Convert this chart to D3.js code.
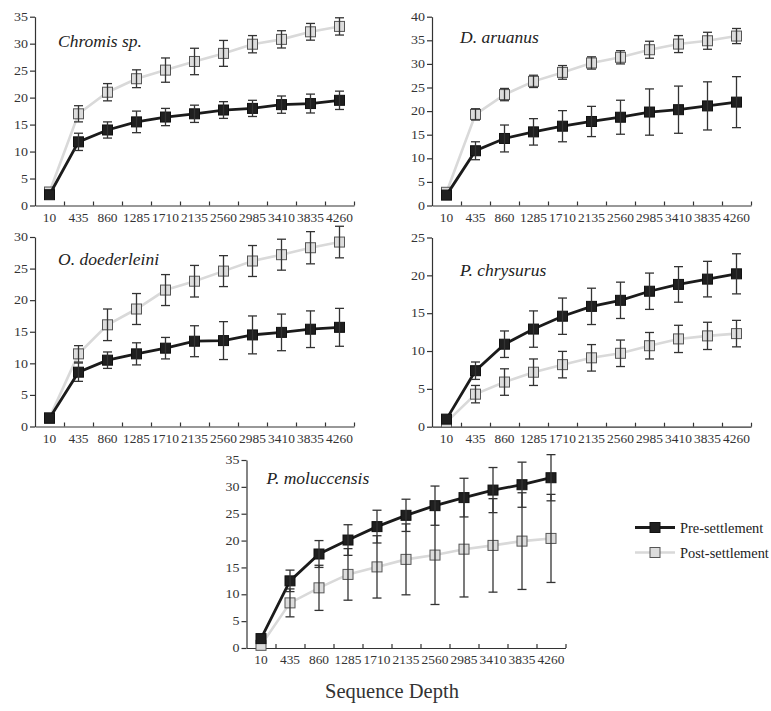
<!DOCTYPE html>
<html>
<head>
<meta charset="utf-8">
<script src="https://cdn.jsdelivr.net/npm/d3@7"></script>
<style>
  body { margin: 0; background: #fff; }
  svg { display: block; font-family: "Liberation Serif", "Times New Roman", serif; }
</style>
</head>
<body>
<div id="chart"></div>
<script>
// sequence depth categories (x axis)
const depths = [10, 435, 860, 1285, 1710, 2135, 2560, 2985, 3410, 3835, 4260];

const species = ["Chromis sp.", "D. aruanus", "O. doederleini", "P. chrysurus", "P. moluccensis"];
const yMax = [35, 40, 30, 25, 35];

const chromisPre = [2.0, 11.8, 14.0, 15.5, 16.4, 17.0, 17.7, 18.0, 18.7, 18.9, 19.5];
const chromisPreErr = [0, 1.6, 1.5, 2.0, 1.6, 1.6, 1.55, 1.5, 1.6, 1.75, 1.7];
const chromisPost = [2.5, 17.0, 21.0, 23.5, 25.1, 26.7, 28.2, 29.9, 30.8, 32.2, 33.2];
const chromisPostErr = [0, 1.5, 1.6, 1.65, 2.25, 2.45, 2.4, 1.6, 1.6, 1.55, 1.6];

const aruanusPre = [2.2, 11.6, 14.2, 15.6, 16.8, 17.8, 18.7, 19.8, 20.3, 21.1, 21.9];
const aruanusPreErr = [0, 1.9, 2.85, 2.8, 3.3, 3.2, 3.6, 4.9, 5.0, 5.1, 5.4];
const aruanusPost = [2.8, 19.3, 23.5, 26.3, 28.2, 30.2, 31.4, 33.0, 34.2, 34.9, 35.9];
const aruanusPostErr = [0, 1.2, 1.3, 1.3, 1.45, 1.3, 1.4, 1.8, 1.8, 1.8, 1.6];

const doederleiniPre = [1.3, 8.6, 10.5, 11.5, 12.4, 13.5, 13.6, 14.5, 14.9, 15.4, 15.7];
const doederleiniPreErr = [0, 1.45, 1.3, 1.75, 1.7, 2.45, 3.0, 3.0, 2.9, 2.9, 3.0];
const doederleiniPost = [1.4, 11.5, 16.1, 18.6, 21.6, 23.0, 24.6, 26.2, 27.2, 28.3, 29.2];
const doederleiniPostErr = [0, 1.3, 2.5, 2.45, 2.45, 2.5, 2.45, 2.45, 2.45, 2.55, 2.5];

const chrysurusPre = [1.0, 7.4, 10.9, 12.9, 14.6, 15.9, 16.7, 17.9, 18.8, 19.5, 20.2];
const chrysurusPreErr = [0, 1.15, 1.75, 2.4, 2.4, 2.4, 2.4, 2.4, 2.35, 2.35, 2.65];
const chrysurusPost = [0.6, 4.3, 5.9, 7.2, 8.2, 9.1, 9.7, 10.7, 11.6, 12.0, 12.3];
const chrysurusPostErr = [0, 1.15, 1.75, 1.75, 1.75, 1.75, 1.75, 1.75, 1.8, 1.8, 1.75];

const moluccensisPre = [1.75, 12.5, 17.5, 20.1, 22.6, 24.7, 26.5, 28.0, 29.4, 30.4, 31.7];
const moluccensisPreErr = [0, 2.0, 2.5, 2.85, 3.05, 3.0, 3.65, 3.6, 4.2, 4.2, 4.3];
const moluccensisPost = [0.5, 8.4, 11.2, 13.7, 15.1, 16.5, 17.3, 18.4, 19.1, 19.9, 20.4];
const moluccensisPostErr = [0, 2.6, 4.2, 4.8, 5.8, 6.6, 9.2, 8.9, 8.7, 9.0, 8.2];

const seriesNames = ["Pre-settlement", "Post-settlement"];

const preData = [chromisPre, aruanusPre, doederleiniPre, chrysurusPre, moluccensisPre];
const preErrData = [chromisPreErr, aruanusPreErr, doederleiniPreErr, chrysurusPreErr, moluccensisPreErr];
const postData = [chromisPost, aruanusPost, doederleiniPost, chrysurusPost, moluccensisPost];
const postErrData = [chromisPostErr, aruanusPostErr, doederleiniPostErr, chrysurusPostErr, moluccensisPostErr];

// panel placement
const layout = [
  { left: 35, top: 16.7, bottom: 205.5, tx: 23, ty: 30 },
  { left: 432, top: 16.7, bottom: 205.5, tx: 28, ty: 26 },
  { left: 35, top: 237, bottom: 426.5, tx: 23, ty: 28 },
  { left: 432, top: 237.5, bottom: 426.7, tx: 28, ty: 38 },
  { left: 246.5, top: 460, bottom: 648, tx: 20, ty: 24 },
];
const plotW = 319;

const styles = {
  pre: { line: "#1b1b1b", lw: 2.8, fill: "#1f1f1f", stroke: "#111" },
  post: { line: "#d9d9d9", lw: 2.6, fill: "#dcdcdc", stroke: "#555" },
};
const axisColor = "#333";
const errColor = "#333";

const svg = d3.select("#chart").append("svg").attr("width", 771).attr("height", 711);

function stretch(sel, perChar) {
  sel.attr("textLength", (d) => String(d).length * perChar).attr("lengthAdjust", "spacingAndGlyphs");
}

species.forEach((name, i) => {
  const L = layout[i];
  const g = svg.append("g");

  const x = d3.scaleBand().domain(depths).range([L.left, L.left + plotW]).padding(0);
  const cx = (d) => x(d) + x.bandwidth() / 2;
  const y = d3.scaleLinear().domain([0, yMax[i]]).range([L.bottom, L.top]);

  // y axis
  const yAxis = g.append("g")
    .attr("transform", `translate(${L.left},0)`)
    .call(d3.axisLeft(y).tickValues(d3.range(0, yMax[i] + 1, 5)).tickSize(5).tickPadding(2).tickSizeOuter(0));
  yAxis.select(".domain").attr("stroke", axisColor).attr("stroke-width", 1.2);
  yAxis.selectAll(".tick line").attr("stroke", axisColor).attr("stroke-width", 1.2);
  yAxis.selectAll("text")
    .attr("font-family", "Liberation Serif").attr("font-size", 11.5).attr("fill", "#333")
    .call(stretch, 7);

  // x axis: labels at category centres, tick marks at boundaries (inward)
  const xb = d3.scaleLinear().domain([0, depths.length]).range([L.left, L.left + plotW]);
  const xTicks = g.append("g")
    .attr("transform", `translate(0,${L.bottom})`)
    .call(d3.axisBottom(xb).tickValues(d3.range(1, depths.length + 1)).tickSize(-4).tickSizeOuter(0).tickFormat(""));
  xTicks.select(".domain").attr("stroke", axisColor).attr("stroke-width", 1.2);
  xTicks.selectAll(".tick line").attr("stroke", axisColor).attr("stroke-width", 1.2);

  const xLabels = g.append("g")
    .attr("transform", `translate(0,${L.bottom})`)
    .call(d3.axisBottom(x).tickSize(0).tickPadding(8));
  xLabels.select(".domain").remove();
  xLabels.selectAll("text")
    .attr("font-family", "Liberation Serif").attr("font-size", 11.5).attr("fill", "#333")
    .call(stretch, 6.7);

  // species name
  g.append("text")
    .attr("x", L.left + L.tx)
    .attr("y", L.top + L.ty)
    .attr("font-size", 17.5)
    .attr("font-style", "italic")
    .attr("fill", "#222")
    .text(name);

  const groups = [
    { key: "post", vals: postData[i], errs: postErrData[i] },
    { key: "pre", vals: preData[i], errs: preErrData[i] },
  ];

  const line = d3.line().x((d) => cx(d.depth)).y((d) => y(d.v));

  groups.forEach((s) => {
    const pts = depths.map((depth, j) => ({ depth, v: s.vals[j], e: s.errs[j] }));
    const st = styles[s.key];

    g.append("path")
      .datum(pts)
      .attr("fill", "none")
      .attr("stroke", st.line)
      .attr("stroke-width", st.lw)
      .attr("d", line);

    g.selectAll(null)
      .data(pts)
      .enter()
      .append("rect")
      .attr("x", (d) => cx(d.depth) - 5)
      .attr("y", (d) => y(d.v) - 5)
      .attr("width", 10)
      .attr("height", 10)
      .attr("fill", st.fill)
      .attr("stroke", st.stroke)
      .attr("stroke-width", 1);

    const err = g.selectAll(null)
      .data(pts.filter((d) => d.e > 0))
      .enter()
      .append("g")
      .attr("stroke", errColor)
      .attr("stroke-width", 1.3);
    err.append("line")
      .attr("x1", (d) => cx(d.depth)).attr("x2", (d) => cx(d.depth))
      .attr("y1", (d) => y(d.v + d.e)).attr("y2", (d) => y(d.v - d.e));
    err.append("line")
      .attr("x1", (d) => cx(d.depth) - 4.5).attr("x2", (d) => cx(d.depth) + 4.5)
      .attr("y1", (d) => y(d.v + d.e)).attr("y2", (d) => y(d.v + d.e));
    err.append("line")
      .attr("x1", (d) => cx(d.depth) - 4.5).attr("x2", (d) => cx(d.depth) + 4.5)
      .attr("y1", (d) => y(d.v - d.e)).attr("y2", (d) => y(d.v - d.e));
  });
});

// axis title
svg.append("text")
  .attr("x", 392)
  .attr("y", 698)
  .attr("text-anchor", "middle")
  .attr("font-family", "Liberation Serif")
  .attr("font-size", 20.5)
  .attr("fill", "#333")
  .text("Sequence Depth");

// legend
const legend = svg.append("g").attr("transform", "translate(635, 0)");
const legendKeys = ["pre", "post"];
const legendY = [527.5, 552.5];
legendKeys.forEach((k, i) => {
  const st = styles[k];
  const row = legend.append("g").attr("transform", `translate(0, ${legendY[i]})`);
  row.append("line").attr("x1", 0).attr("x2", 40).attr("y1", 0).attr("y2", 0)
    .attr("stroke", st.line).attr("stroke-width", st.lw);
  row.append("rect").attr("x", 15).attr("y", -5).attr("width", 10).attr("height", 10)
    .attr("fill", st.fill).attr("stroke", st.stroke);
  row.append("text")
    .attr("transform", "translate(45, 5) scale(1.03, 1)")
    .attr("font-family", "Liberation Serif")
    .attr("font-size", 14)
    .attr("fill", "#222")
    .text(seriesNames[i]);
});
</script>
</body>
</html>
